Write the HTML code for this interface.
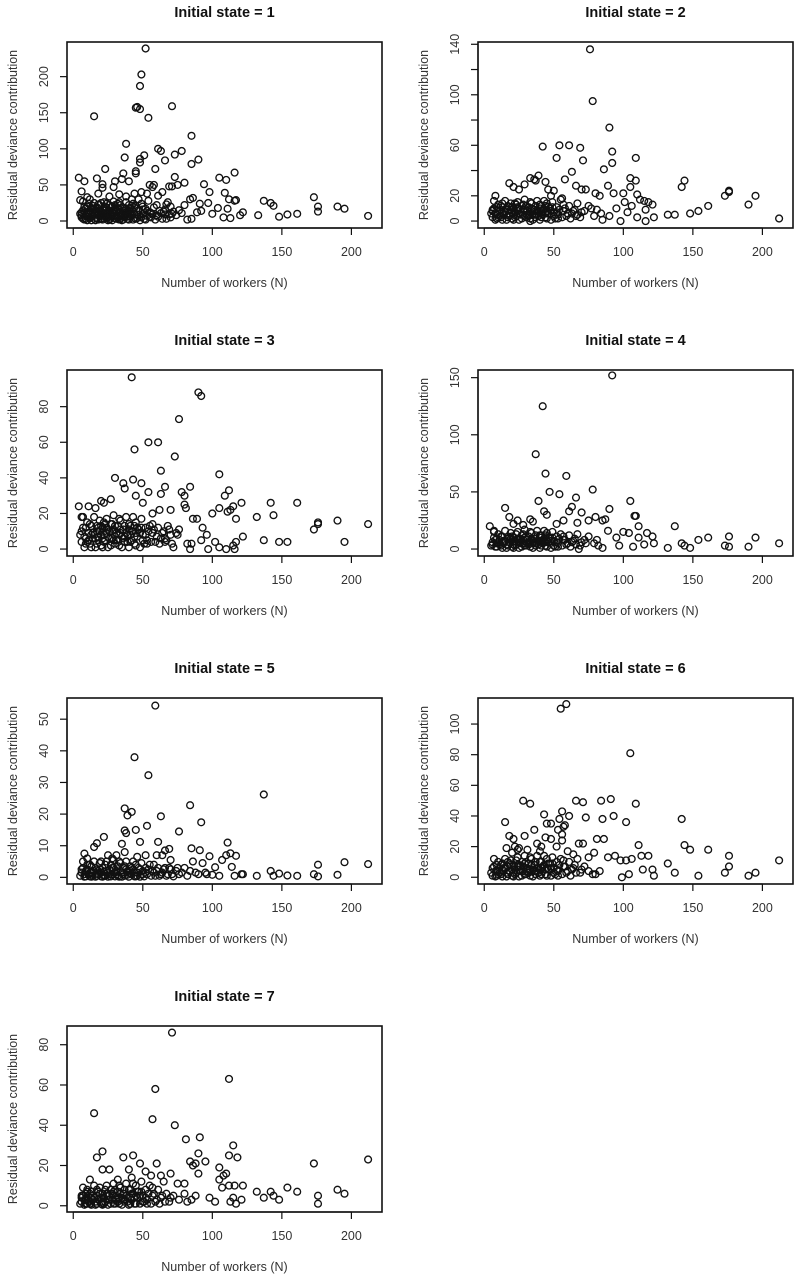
<!DOCTYPE html>
<html><head><meta charset="utf-8"><title>Residual deviance by initial state</title>
<style>
html,body{margin:0;padding:0;background:#fff;}
svg{display:block;font-family:"Liberation Sans",Arial,sans-serif;}
</style></head>
<body>
<svg id="chart" width="800" height="1279" viewBox="0 0 800 1279" xmlns="http://www.w3.org/2000/svg"></svg>
<script>
// ---- data (x = number of workers, y = residual deviance contribution) ----
const xTicks = [0, 50, 100, 150, 200];
const state1Points = [[52,239],[49,203],[48,187],[45,157],[46,158],[48,155],[15,145],[71,159],[54,143],[38,107],[61,100],[63,97],[78,97],[73,92],[51,91],[85,118],[90,85],[66,84],[48,86],[48,81],[37,88],[85,79],[23,72],[59,72],[116,67],[45,69],[45,66],[36,66],[105,60],[110,57],[4,60],[8,55],[17,59],[30,55],[40,55],[21,51],[21,46],[73,61],[69,48],[71,48],[80,53],[94,51],[55,50],[58,50],[75,50],[6,41],[98,40],[109,39],[35,58],[29,47],[133,8],[137,28],[142,25],[144,21],[148,6],[154,9],[161,10],[173,33],[176,20],[176,13],[190,20],[195,17],[212,7],[122,12],[120,8],[113,4],[111,17],[108,5],[116,28],[117,29],[112,30],[104,18],[100,10],[97,25],[92,14],[89,12],[91,24],[86,32],[84,30],[80,22],[82,2],[85,3],[76,15],[70,20],[67,23],[66,16],[64,40],[61,35],[57,47],[53,38],[49,40],[44,38],[42,30],[38,34],[33,37],[26,34],[18,38],[12,30],[10,33],[5,29],
[5,10],[6,5],[7,15],[8,2],[9,8],[10,20],[11,12],[12,4],[13,18],[14,7],[15,25],[16,1],[17,13],[18,9],[19,22],[20,3],[21,16],[22,11],[23,6],[24,24],[25,1],[26,14],[27,19],[28,8],[29,27],[30,4],[31,12],[32,17],[33,2],[34,22],[35,9],[36,14],[37,5],[38,26],[39,11],[40,2],[41,18],[42,7],[43,13],[44,4],[45,21],[46,9],[47,15],[48,1],[49,24],[50,10],[51,3],[52,17],[53,7],[54,28],[55,12],[56,5],[58,19],[60,8],[62,14],[64,3],[66,9],[68,26],[70,5],[72,13],[74,8],[78,11],[7,27],[9,3],[11,6],[13,1],[15,10],[17,4],[19,14],[21,2],[23,20],[25,9],[27,3],[29,15],[31,7],[33,26],[35,1],[37,18],[39,6],[41,10],[43,24],[45,3],[47,30],[18,17],[22,26],[26,6],[30,22],[34,13],[24,10],[20,8],[16,18],[12,14],[28,13],[32,5],[6,12],[8,20],[10,6],[14,16],[20,13],[24,4],[28,20],[36,8],[40,14],[44,9],[50,16],[56,11],[60,22],[65,13],[69,9],
[6,8],[7,3],[8,12],[9,17],[10,1],[11,24],[12,9],[13,5],[14,21],[15,3],[16,12],[17,19],[18,2],[19,6],[20,25],[21,8],[22,4],[23,14],[24,18],[25,5],[26,22],[27,9],[28,1],[29,10],[30,16],[31,3],[32,24],[33,12],[34,6],[35,19],[36,2],[37,11],[38,15],[39,3],[40,22],[41,6],[42,17],[43,2],[44,19],[46,4],[47,8],[49,5],[50,20],[52,2],[53,14],[55,6],[57,9],[59,2],[61,6],[63,11],[67,3],[71,10],[14,11],[18,23],[22,18],[26,2],[30,9],[34,3],[38,8],[42,21]];
const state2Points = [[76,136],[78,95],[90,74],[42,59],[54,60],[61,60],[69,58],[92,55],[52,50],[71,48],[92,46],[109,50],[86,41],[63,39],[58,33],[39,36],[33,34],[36,33],[37,32],[44,31],[18,30],[21,27],[29,29],[25,25],[105,34],[105,27],[109,32],[89,28],[93,22],[100,22],[66,28],[70,25],[73,25],[80,22],[83,20],[110,21],[112,17],[115,16],[118,15],[116,9],[121,13],[122,3],[116,0],[110,3],[98,0],[103,7],[101,15],[106,12],[95,10],[85,1],[84,6],[90,4],[77,10],[67,5],[56,18],[50,24],[48,20],[132,5],[137,5],[142,27],[144,32],[148,6],[154,8],[161,12],[173,20],[176,23],[176,24],[190,13],[195,20],[212,2],[8,20],[13,14],[6,8],[33,0],[46,25],
[5,6],[6,3],[7,10],[8,1],[9,5],[10,13],[11,8],[12,3],[13,11],[14,5],[15,16],[16,1],[17,9],[18,6],[19,14],[20,2],[21,10],[22,7],[23,4],[24,15],[25,1],[26,9],[27,12],[28,5],[29,17],[30,3],[31,8],[32,11],[33,2],[34,14],[35,6],[36,9],[37,3],[38,16],[39,7],[40,1],[41,12],[42,5],[43,9],[44,3],[45,14],[46,6],[47,10],[48,1],[49,15],[50,7],[51,2],[52,11],[53,5],[55,17],[57,8],[59,4],[61,12],[63,6],[65,9],[67,14],[69,3],[72,8],[75,12],[7,16],[9,2],[11,4],[13,1],[15,7],[17,3],[19,9],[21,1],[23,13],[25,6],[27,2],[29,10],[31,5],[33,15],[35,1],[37,12],[39,4],[41,7],[43,16],[45,2],[20,11],[24,8],[28,13],[34,8],[40,10],[44,12],[18,4],[22,14],
[6,9],[8,6],[10,3],[12,12],[14,8],[16,5],[18,11],[20,7],[22,3],[24,11],[26,5],[28,9],[30,12],[32,4],[34,10],[36,5],[38,8],[40,13],[42,9],[44,6],[46,11],[48,8],[50,4],[52,7],[54,9],[56,3],[58,10],[60,6],[62,2],[64,8],[9,11],[13,7],[17,12],[21,5],[25,10],[29,4],[33,7],[37,6],[41,3],[45,8],[49,11],[53,2],[57,13],[66,4],[70,7],[79,4],[81,9]];
const state3Points = [[42,96.5],[90,88],[92,86],[76,73],[54,60],[61,60],[44,56],[73,52],[63,44],[105,42],[30,40],[43,39],[36,37],[49,37],[37,34],[66,35],[84,35],[78,32],[80,30],[63,31],[54,32],[45,30],[112,33],[109,30],[27,28],[50,26],[20,27],[22,26],[80,25],[81,23],[121,26],[142,26],[161,26],[144,19],[132,18],[117,17],[105,23],[100,20],[111,21],[113,22],[115,24],[70,22],[62,22],[57,20],[89,17],[86,17],[4,24],[11,24],[16,23],[6,18],[137,5],[148,4],[154,4],[173,11],[176,14],[176,15],[190,16],[195,4],[212,14],[122,7],[116,0],[115,2],[117,4],[110,0],[102,4],[105,1],[97,0],[96,8],[93,12],[92,5],[84,0],[85,3],[82,3],[76,11],[75,8],[72,1],[68,13],[66,4],
[5,8],[6,4],[7,12],[8,1],[9,6],[10,15],[11,9],[12,3],[13,13],[14,6],[15,18],[16,1],[17,10],[18,7],[19,16],[20,2],[21,12],[22,8],[23,5],[24,17],[25,1],[26,10],[27,14],[28,6],[29,19],[30,3],[31,9],[32,13],[33,2],[34,16],[35,7],[36,11],[37,4],[38,18],[39,8],[40,1],[41,13],[42,5],[43,10],[44,3],[45,15],[46,7],[47,11],[48,1],[49,17],[50,8],[51,3],[52,12],[53,5],[55,13],[57,9],[59,4],[61,12],[63,6],[65,10],[67,5],[69,11],[71,3],[74,9],[7,18],[9,3],[11,5],[13,1],[15,8],[17,3],[19,10],[21,1],[23,14],[25,7],[27,2],[29,11],[31,5],[33,17],[35,1],[37,13],[39,4],[41,8],[43,18],[45,2],[20,13],[24,9],[28,14],[34,9],[40,11],[44,13],[18,5],[22,15],
[6,10],[8,7],[10,4],[12,14],[14,9],[16,6],[18,12],[20,8],[22,4],[24,12],[26,6],[28,10],[30,13],[32,5],[34,11],[36,6],[38,9],[40,14],[42,10],[44,7],[46,12],[48,9],[50,5],[52,8],[54,10],[56,4],[58,11],[60,7],[62,3],[64,9],[9,12],[13,8],[17,13],[21,6],[25,11],[29,5],[33,8],[37,7],[41,4],[45,9],[49,12],[53,3],[57,14],[66,6],[70,8]];
const state4Points = [[92,152],[42,125],[37,83],[44,66],[59,64],[47,50],[54,48],[78,52],[66,45],[39,42],[105,42],[43,33],[45,30],[61,33],[63,37],[70,32],[90,35],[15,36],[18,28],[108,29],[109,29],[111,20],[137,20],[80,28],[85,25],[87,26],[75,25],[67,23],[57,25],[52,22],[33,26],[35,24],[28,21],[24,25],[21,22],[4,20],[7,15],[100,15],[104,14],[117,14],[121,11],[122,5],[115,4],[111,10],[107,2],[97,3],[95,10],[89,16],[132,1],[142,5],[144,3],[148,1],[154,8],[161,10],[173,3],[176,11],[176,2],[190,2],[195,10],[212,5],[85,1],[82,3],[73,5],[68,0],
[5,3],[6,6],[7,10],[8,2],[9,5],[10,13],[11,8],[12,3],[13,11],[14,5],[15,16],[16,1],[17,9],[18,6],[19,14],[20,2],[21,10],[22,7],[23,4],[24,15],[25,1],[26,9],[27,12],[28,5],[29,17],[30,3],[31,8],[32,11],[33,2],[34,14],[35,6],[36,9],[37,3],[38,16],[39,7],[40,1],[41,12],[42,5],[43,9],[44,3],[45,14],[46,6],[47,10],[48,1],[49,15],[50,7],[51,2],[52,11],[53,5],[55,13],[57,8],[59,4],[61,12],[63,6],[65,9],[67,13],[69,3],[72,8],[75,11],[7,16],[9,2],[11,4],[13,1],[15,7],[17,3],[19,9],[21,1],[23,13],[25,6],[27,2],[29,10],[31,5],[33,15],[35,1],[37,12],[39,4],[41,7],[43,16],[45,2],[20,11],[24,8],[28,13],[34,8],[40,10],[44,12],
[6,4],[8,8],[10,5],[12,11],[14,7],[16,4],[18,10],[20,6],[22,3],[24,9],[26,5],[28,8],[30,11],[32,4],[34,9],[36,5],[38,7],[40,12],[42,8],[44,6],[46,10],[48,7],[50,3],[52,6],[54,9],[56,3],[58,8],[60,5],[62,2],[64,7],[9,9],[13,6],[17,11],[21,4],[25,9],[29,3],[33,6],[37,5],[41,3],[45,7],[49,10],[53,2],[57,11],[66,4],[70,6],[79,5],[81,8]];
const state5Points = [[59,54.3],[44,38],[54,32.3],[137,26.2],[84,22.8],[37,21.8],[42,20.7],[39,19.6],[63,19.3],[92,17.4],[53,16.3],[45,15],[37,14.8],[38,14],[76,14.5],[22,12.8],[17,10.8],[15,9.6],[35,10.6],[48,11.2],[61,11.2],[111,11],[85,9.2],[91,8.6],[69,9],[66,8.5],[98,6.7],[113,7.6],[110,7],[117,6.8],[107,5.5],[37,8],[8,7.5],[10,6],[25,7],[31,7],[52,7],[60,7],[64,7],[70,5.5],[86,5],[93,4.5],[102,3.2],[114,3.3],[121,1],[122,1],[116,0.5],[105,0.5],[96,1],[132,0.5],[142,2],[144,0.5],[148,1.2],[154,0.6],[161,0.5],[173,1],[176,4],[176,0.3],[190,0.8],[195,4.8],[212,4.2],[80,3],[75,3],[58,4],[46,6.5],[28,6],[20,5],[12,4],
[5,0.5],[6,1.5],[7,3],[8,0.2],[9,2],[10,4],[11,1],[12,0.3],[13,3.5],[14,1.5],[15,5],[16,0.2],[17,2.5],[18,1],[19,4.5],[20,0.3],[21,3],[22,1.8],[23,0.5],[24,5],[25,0.2],[26,2.5],[27,4],[28,1],[29,5.5],[30,0.3],[31,2],[32,3.5],[33,0.2],[34,4.5],[35,1.5],[36,3],[37,0.5],[38,5],[39,2],[40,0.2],[41,3.5],[42,1],[43,2.5],[44,0.3],[45,4],[46,1.5],[47,3],[48,0.2],[49,4.5],[50,2],[51,0.3],[52,3],[53,1],[55,4],[57,2],[59,0.5],[61,3],[63,1],[65,2.5],[67,0.5],[69,3],[71,1],[74,2],[78,1.5],[82,0.5],[88,1.5],[7,5],[9,0.3],[11,0.8],[13,0.2],[15,2],[17,0.5],[19,2.5],[21,0.2],[23,4],[25,1.5],[27,0.3],[29,3],[31,1],[33,5],[35,0.2],[37,3.5],[39,0.8],[41,2],[43,5],[45,0.3],
[6,2.5],[8,1],[10,2.5],[12,1.5],[14,0.5],[16,3],[18,2],[20,1.5],[22,0.5],[24,2],[26,1],[28,3],[30,1.5],[32,0.5],[34,2],[36,1],[38,2.5],[40,1.5],[42,3],[44,1.5],[46,0.5],[48,2.5],[50,1],[52,1.5],[54,2.5],[56,0.5],[58,1.5],[60,2],[62,0.5],[64,1.5],[66,3],[68,1],[70,2.5],[72,0.3],[76,1],[84,2],[90,1],[95,1.5],[100,0.8]];
const state6Points = [[59,113],[55,110],[105,81],[28,50],[33,48],[66,50],[71,49],[84,50],[91,51],[109,48],[43,41],[56,43],[61,40],[73,39],[85,38],[93,40],[54,38],[102,36],[15,36],[142,38],[45,35],[48,35],[36,31],[53,31],[57,33],[58,34],[56,28],[56,24],[29,27],[18,27],[21,25],[44,26],[48,25],[68,22],[71,22],[81,25],[86,25],[111,21],[144,21],[148,18],[161,18],[16,19],[38,22],[41,20],[79,16],[94,14],[89,13],[98,11],[102,11],[106,12],[113,14],[118,14],[121,5],[122,1],[114,5],[104,2],[99,0],[132,9],[137,3],[154,1],[173,3],[176,14],[176,7],[190,1],[195,3],[212,11],[75,13],[64,15],[60,17],[52,20],[25,19],[31,18],[40,17],
[5,3],[6,1],[7,7],[8,0.5],[9,4],[10,10],[11,6],[12,2],[13,9],[14,4],[15,12],[16,0.5],[17,7],[18,4],[19,11],[20,1],[21,8],[22,5],[23,3],[24,13],[25,0.5],[26,7],[27,10],[28,4],[29,14],[30,2],[31,6],[32,9],[33,1],[34,12],[35,5],[36,8],[37,2],[38,14],[39,6],[40,1],[41,10],[42,4],[43,8],[44,2],[45,12],[46,5],[47,9],[48,1],[49,13],[50,6],[51,2],[52,10],[53,4],[55,12],[57,7],[59,3],[61,10],[63,5],[65,8],[67,12],[69,3],[72,7],[75,4],[78,2],[7,12],[9,1],[11,3],[13,0.5],[15,6],[17,2],[19,8],[21,0.5],[23,11],[25,5],[27,1],[29,9],[31,4],[33,13],[35,0.5],[37,10],[39,3],[41,6],[43,14],[45,1],[20,16],[24,18],[22,20],
[6,6],[8,4],[10,2],[12,8],[14,6],[16,3],[18,9],[20,5],[22,2],[24,8],[26,4],[28,7],[30,10],[32,3],[34,8],[36,4],[38,6],[40,10],[42,7],[44,5],[46,9],[48,6],[50,3],[52,5],[54,8],[56,2],[58,7],[60,4],[62,1],[64,6],[9,8],[13,5],[17,10],[21,3],[25,8],[29,2],[33,5],[37,4],[41,2],[45,6],[49,9],[53,1],[57,11],[66,3],[70,5],[80,2],[83,4]];
const state7Points = [[71,86],[112,63],[59,58],[15,46],[57,43],[73,40],[81,33],[91,34],[115,30],[90,26],[21,27],[17,24],[36,24],[43,25],[112,25],[118,24],[84,22],[86,20],[88,21],[95,22],[90,16],[105,19],[173,21],[212,23],[48,21],[52,17],[60,21],[56,15],[70,16],[63,15],[75,11],[80,11],[26,18],[21,18],[40,18],[42,14],[105,13],[108,15],[110,16],[107,9],[112,10],[116,10],[122,10],[121,3],[117,1],[115,4],[113,2],[102,2],[98,4],[132,7],[137,4],[142,7],[144,5],[148,3],[154,9],[161,7],[176,5],[176,1],[190,8],[195,6],[32,13],[12,13],[10,7],[6,4],
[5,1],[6,2],[7,5],[8,0.5],[9,3],[10,8],[11,4],[12,1],[13,7],[14,3],[15,10],[16,0.5],[17,5],[18,3],[19,9],[20,1],[21,6],[22,4],[23,2],[24,10],[25,0.5],[26,5],[27,8],[28,3],[29,11],[30,1],[31,5],[32,7],[33,1],[34,9],[35,4],[36,6],[37,2],[38,11],[39,4],[40,0.5],[41,8],[42,3],[43,6],[44,1],[45,10],[46,4],[47,7],[48,1],[49,12],[50,5],[51,2],[52,8],[53,3],[55,10],[57,5],[59,2],[61,8],[63,4],[65,12],[67,6],[69,2],[72,5],[76,3],[80,6],[85,3],[7,9],[9,1],[11,2],[13,0.5],[15,4],[17,1],[19,6],[21,0.5],[23,8],[25,3],[27,1],[29,7],[31,3],[33,10],[35,0.5],[37,8],[39,2],[41,4],[43,11],[45,1],
[6,5],[8,3],[10,1],[12,6],[14,5],[16,2],[18,7],[20,4],[22,1],[24,6],[26,3],[28,6],[30,8],[32,2],[34,6],[36,3],[38,5],[40,8],[42,6],[44,4],[46,7],[48,5],[50,2],[52,4],[54,6],[56,1],[58,6],[60,3],[62,1],[64,5],[9,6],[13,4],[17,8],[21,2],[25,6],[29,1],[33,4],[37,3],[41,1],[45,5],[49,7],[53,1],[57,9],[66,2],[70,4],[82,2],[88,5]];

const yTicks1 = [0, 50, 100, 150, 200];
const yTicks2 = [0, 20, 40, 60, 80, 100, 120, 140];
const yLabels2 = ["0", "20", "", "60", "", "100", "", "140"];
const yTicks3 = [0, 20, 40, 60, 80];
const yTicks4 = [0, 50, 100, 150];
const yTicks5 = [0, 10, 20, 30, 40, 50];
const yTicks6 = [0, 20, 40, 60, 80, 100];
const yTicks7 = [0, 20, 40, 60, 80];

// ---- layout ----
const panels = [
  {id:1, pts:state1Points, ticks:yTicks1, labels:null,    x0:67,  top:42,  yDom:[-9.7,248]},
  {id:2, pts:state2Points, ticks:yTicks2, labels:yLabels2, x0:478, top:42, yDom:[-5.5,141.8]},
  {id:3, pts:state3Points, ticks:yTicks3, labels:null,    x0:67,  top:370, yDom:[-3.9,100.6]},
  {id:4, pts:state4Points, ticks:yTicks4, labels:null,    x0:478, top:370, yDom:[-6.1,156.7]},
  {id:5, pts:state5Points, ticks:yTicks5, labels:null,    x0:67,  top:698, yDom:[-2.1,56.7]},
  {id:6, pts:state6Points, ticks:yTicks6, labels:null,    x0:478, top:698, yDom:[-4.4,117]},
  {id:7, pts:state7Points, ticks:yTicks7, labels:null,    x0:67,  top:1026, yDom:[-3.1,89.3]}
];
const W = 315, H = 186, xDom = [-4.5, 222];
const NS = "http://www.w3.org/2000/svg";
const svg = document.getElementById('chart');

function mk(tag, attrs, parent, text) {
  const e = document.createElementNS(NS, tag);
  for (const k in attrs) e.setAttribute(k, attrs[k]);
  if (text !== undefined) e.textContent = text;
  parent.appendChild(e);
  return e;
}

panels.forEach(p => {
  const g = mk('g', {}, svg);
  
  
  const xs = v => p.x0 + (v - xDom[0]) / (xDom[1] - xDom[0]) * W;
  const ys = v => p.top + H - (v - p.yDom[0]) / (p.yDom[1] - p.yDom[0]) * H;
  const bottom = p.top + H, cx = p.x0 + W / 2;

  const title = mk('text', {x: cx, y: p.top - 25, 'text-anchor': 'middle', 'font-size': 14.5, 'font-weight': 'bold', fill: '#111'}, g, 'Initial state = ' + p.id);
  
  

  const pg = mk('g', {fill: 'none', stroke: '#111', 'stroke-width': 1.35}, g);
  
  
  p.pts.forEach(d => {
    const c = mk('circle', {cx: xs(d[0]).toFixed(1), cy: ys(d[1]).toFixed(1), r: 3.4}, pg);
    
    
  });

  const box = mk('rect', {x: p.x0, y: p.top, width: W, height: H, fill: 'none', stroke: '#111', 'stroke-width': 1.6}, g);
  
  

  // x axis
  const xa = mk('g', {stroke: '#111', 'stroke-width': 1.2}, g);
  
  
  mk('line', {x1: xs(xTicks[0]), x2: xs(xTicks[xTicks.length - 1]), y1: bottom, y2: bottom}, xa);
  xTicks.forEach(t => {
    mk('line', {x1: xs(t), x2: xs(t), y1: bottom, y2: bottom + 7}, xa);
    const tl = mk('text', {x: xs(t), y: bottom + 28, 'text-anchor': 'middle', 'font-size': 12.5, fill: '#333', stroke: 'none'}, g, String(t));
    
    
  });
  const xl = mk('text', {x: cx, y: bottom + 59, 'text-anchor': 'middle', 'font-size': 12.5, fill: '#333'}, g, 'Number of workers (N)');
  
  

  // y axis
  const ya = mk('g', {stroke: '#111', 'stroke-width': 1.2}, g);
  
  
  mk('line', {x1: p.x0, x2: p.x0, y1: ys(p.ticks[0]), y2: ys(p.ticks[p.ticks.length - 1])}, ya);
  p.ticks.forEach((t, i) => {
    mk('line', {x1: p.x0 - 7, x2: p.x0, y1: ys(t), y2: ys(t)}, ya);
    const lab = p.labels ? p.labels[i] : String(t);
    if (lab) {
      const tx = p.x0 - 19, ty = ys(t);
      const yl = mk('text', {x: tx, y: ty, 'text-anchor': 'middle', 'font-size': 12.5, fill: '#333', transform: 'rotate(-90 ' + tx + ' ' + ty + ')'}, g, lab);
      
      
    }
  });
  const lx = p.x0 - 50, ly = p.top + H / 2;
  const ylab = mk('text', {x: lx, y: ly, 'text-anchor': 'middle', 'font-size': 12.5, fill: '#333', transform: 'rotate(-90 ' + lx + ' ' + ly + ')'}, g, 'Residual deviance contribution');
  
  
});
</script>
</body></html>
